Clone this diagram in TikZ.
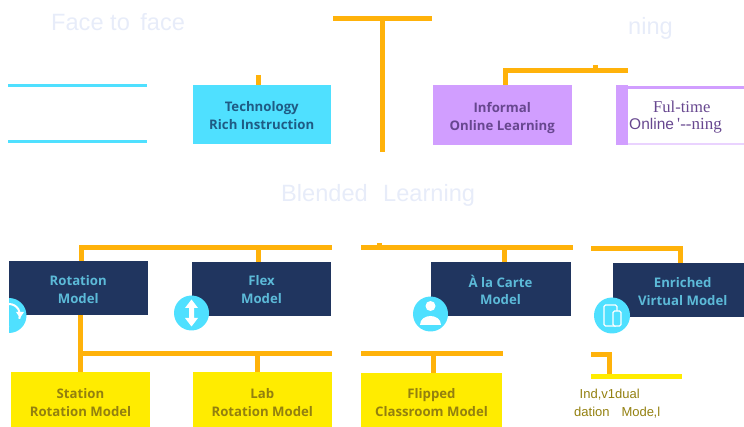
\documentclass[tikz,border=0pt]{standalone}
\usepackage{fontspec}
\setmainfont{Open Sans}
\newfontfamily\libsans{Liberation Sans}
\newfontfamily\libserif{Liberation Serif}
\definecolor{orangeline}{HTML}{FFB20A}
\definecolor{cyanbox}{HTML}{4FE0FF}
\definecolor{purplebox}{HTML}{D19EFF}
\definecolor{navybox}{HTML}{20355F}
\definecolor{yellowbox}{HTML}{FFEC00}
\definecolor{ghost}{HTML}{E7ECF9}
\definecolor{purpletext}{HTML}{67478F}
\definecolor{navytext}{HTML}{5CBAD8}
\definecolor{olivetext}{HTML}{93800F}
\definecolor{techtext}{HTML}{1F5B84}
\newcommand{\lowered}[3]{\hspace*{#1}\raisebox{\dimexpr-#2-1.8pt\relax}[0pt][0pt]{\begin{tabular}{@{}c@{}}#3\end{tabular}}}
\tikzset{
  x=1pt,y=-1pt,
  box/.style={anchor=north west,inner sep=0pt,outer sep=0pt,align=center,font=\fontsize{13.2}{17.8}\selectfont\bfseries},
  techbox/.style={box,fill=cyanbox,text=techtext},
  purplenode/.style={box,fill=purplebox,text=purpletext},
  navynode/.style={box,fill=navybox,text=navytext},
  yellownode/.style={box,fill=yellowbox,text=olivetext},
  link/.style={draw=orangeline,line width=5pt},
  ghosttext/.style={anchor=base west,inner sep=0pt,text=ghost,font=\libsans\fontsize{23.6}{23.6}\selectfont},
  iconcircle/.style={circle,fill=cyanbox,inner sep=0pt,minimum size=35pt},
  plain/.style={inner sep=0pt,anchor=base west},
}
\begin{document}
\begin{tikzpicture}
\useasboundingbox (0,0) rectangle (744,427);
% ghost headings
\node[ghosttext] (face) at (51,31) {Face to\, face};
\node[ghosttext] (ning) at (628,35) {ning};
\node[ghosttext] (blend1) at (281,201.5) {Blended};
\node[ghosttext] (blend2) at (383,201.5) {Learning};
% cyan rules
\coordinate (c1a) at (8,85.5); \coordinate (c1b) at (147,85.5);
\coordinate (c2a) at (8,141.5); \coordinate (c2b) at (147,141.5);
\draw[cyanbox,line width=2.2pt] (c1a) -- (c1b);
\draw[cyanbox,line width=2.2pt] (c2a) -- (c2b);
% top connectors
\coordinate (tl) at (333,19); \coordinate (tr) at (432,19);
\coordinate (tv) at (382,19); \coordinate (tb) at (382,152);
\coordinate (t1) at (258,75); \coordinate (t2) at (258,85);
\coordinate (ia) at (505,85.5); \coordinate (ib) at (505,70.5); \coordinate (ic) at (628,70.5);
\coordinate (id) at (595,65); \coordinate (ie) at (595,70.5);
\draw[link] (tl) -- (tr);
\draw[link] (tv) -- (tb);
\draw[link] (t1) -- (t2);
\draw[link,line join=miter] (ia) -- (ib) -- (ic);
\draw[link] (id) -- (ie);
% top boxes
\node[techbox,minimum width=138.5pt,minimum height=59pt] (tech) at (192.5,85) {\lowered{0pt}{4pt}{Technology\\Rich Instruction}};
\node[purplenode,minimum width=138.5pt,minimum height=59.5pt] (inf) at (433,85.5) {\lowered{0pt}{3.5pt}{Informal\\Online Learning}};
\node[anchor=north west,fill=purplebox,inner sep=0pt,minimum width=12pt,minimum height=60pt] (pstub) at (616,85) {};
\fill[purplebox] (628,86.2) rectangle (744,88.8);
\fill[purplebox!45] (628,143) rectangle (744,145);
\node[plain,text=purpletext,font=\libserif\fontsize{16.6}{16.6}\selectfont] (ful) at (653,112.5) {Ful-time};
\node[plain,text=purpletext,font=\libsans\fontsize{15.5}{15.5}\selectfont] (onl) at (629,129.5) {Online};
\node[plain,text=purpletext,font=\libserif\fontsize{17}{17}\selectfont] (nng) at (677,129.5) {'--ning};
% lower connectors
\coordinate (r0) at (81,261); \coordinate (r1) at (81,248); \coordinate (r2) at (332,248);
\coordinate (f0) at (258,262); \coordinate (f1) at (258,248);
\coordinate (m1) at (361,248); \coordinate (m2) at (573,248);
\coordinate (m0) at (379,243);\coordinate (m3) at (379,248);
\coordinate (a0) at (504,262.5); \coordinate (a1) at (504,248);
\coordinate (e1) at (591,248.5); \coordinate (e2) at (680,248.5); \coordinate (e3) at (680,263);
\coordinate (s0) at (80,315); \coordinate (s1) at (80,372);
\coordinate (h0) at (80,353.5); \coordinate (h1) at (332,353.5);
\coordinate (l0) at (257,353.5); \coordinate (l1) at (257,372);
\coordinate (h2) at (361,354); \coordinate (h3) at (503,354);
\coordinate (p0) at (433,354); \coordinate (p1) at (433,373);
\coordinate (q1) at (591,354.5); \coordinate (q2) at (609,354.5); \coordinate (q3) at (609,374);
\draw[link,line join=miter] (r0) -- (r1) -- (r2);
\draw[link] (f0) -- (f1);
\draw[link] (m1) -- (m2);
\draw[link] (m0) -- (m3);
\draw[link] (a0) -- (a1);
\draw[link,line join=miter] (e1) -- (e2) -- (e3);
\draw[link] (s0) -- (s1);
\draw[link] (h0) -- (h1);
\draw[link] (l0) -- (l1);
\draw[link] (h2) -- (h3);
\draw[link] (p0) -- (p1);
\draw[link,line join=miter] (q1) -- (q2) -- (q3);
% navy boxes
\node[navynode,minimum width=138.5pt,minimum height=54pt] (rot) at (9,261) {\lowered{0pt}{4pt}{Rotation\\Model}};
\node[navynode,minimum width=139pt,minimum height=54pt] (flex) at (192,262) {\lowered{0pt}{3.5pt}{Flex\\Model}};
\node[navynode,minimum width=140pt,minimum height=53.5pt] (carte) at (430.5,262.5) {\lowered{0pt}{4.3pt}{À la Carte\\Model}};
\node[navynode,minimum width=131.5pt,minimum height=54pt] (enr) at (612.5,263) {\lowered{9pt}{4pt}{Enriched\\Virtual Model}};
% yellow boxes
\node[yellownode,minimum width=139pt,minimum height=55pt] (sta) at (11,372) {\lowered{0pt}{5.5pt}{Station\\Rotation Model}};
\node[yellownode,minimum width=139.5pt,minimum height=55pt] (lab) at (192.5,372) {\lowered{0pt}{5.5pt}{Lab\\Rotation Model}};
\node[yellownode,minimum width=141pt,minimum height=54pt] (fli) at (361,373) {\lowered{0pt}{5pt}{Flipped\\Classroom Model}};
\fill[yellowbox] (591,374) rectangle (682,379);
\node[plain,text=olivetext,font=\libsans\fontsize{13}{13}\selectfont] (ind) at (579.5,398) {Ind,v1dual};
\node[plain,text=olivetext,font=\libsans\fontsize{13}{13}\selectfont] (dat) at (574,416) {dation\hspace{12pt}Mode\kern-.5pt,l};
% icons
\begin{scope}
\clip (9,290) rectangle (40,340);
\node[iconcircle] (icr) at (9,315.5) {};
\draw[white,line width=2pt] (9,304) arc[start angle=90,end angle=-20,radius=11pt];
\draw[white,line width=2pt] (9,327) arc[start angle=-90,end angle=-170,radius=11pt];
\fill[white] (16,312) -- (24,312) -- (20,318) -- cycle;
\end{scope}
\node[iconcircle] (icf) at (191.5,313) {};
\fill[white] (191.5,299.5) -- (198,308) -- (194,308) -- (194,318) -- (198,318) -- (191.5,326.5) -- (185,318) -- (189,318) -- (189,308) -- (185,308) -- cycle;
\node[iconcircle] (ica) at (430.5,314) {};
\fill[white] (430.5,306) circle[radius=5pt];
\fill[white] (420,325) .. controls (420,313) and (441,313) .. (441,325) -- cycle;
\node[iconcircle,minimum size=36pt] (ice) at (612,315.5) {};
\draw[white,line width=1.2pt,rounded corners=1.5pt] (604,305) rectangle (617,326);
\draw[white,line width=1.2pt,fill=cyanbox,rounded corners=1.5pt] (613,311) rectangle (621,326);
\end{tikzpicture}
\end{document}
